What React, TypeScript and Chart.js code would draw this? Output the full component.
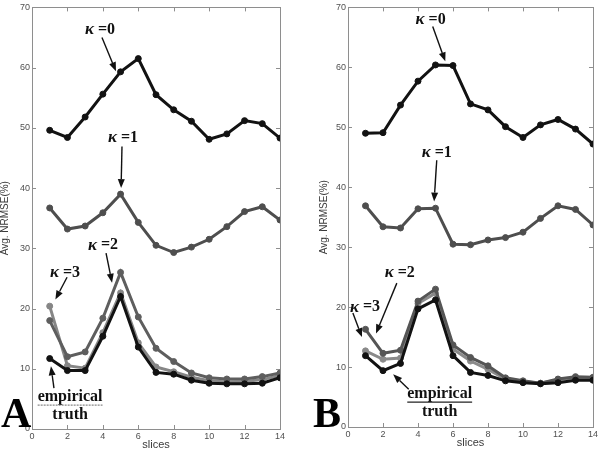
import React, { useEffect, useRef } from 'react';
import { Chart, registerables } from 'chart.js';

Chart.register(...registerables);

// ---------- data ----------
const slices = [1, 2, 3, 4, 5, 6, 7, 8, 9, 10, 11, 12, 13, 14];
const xTickValues = [0, 2, 4, 6, 8, 10, 12, 14];
const yTickValues = [0, 10, 20, 30, 40, 50, 60, 70];

// Panel A
const aKappa0 = [49.6, 48.4, 51.8, 55.6, 59.3, 61.5, 55.5, 53.0, 51.1, 48.1, 49.0, 51.2, 50.7, 48.3];
const aKappa1 = [36.7, 33.2, 33.7, 35.9, 39.0, 34.3, 30.5, 29.3, 30.2, 31.5, 33.6, 36.1, 36.9, 34.7];
const aKappa2 = [18.0, 12.0, 12.8, 18.4, 26.0, 18.6, 13.4, 11.2, 9.3, 8.5, 8.3, 8.3, 8.7, 9.3];
const aKappa3 = [20.4, 10.5, 10.1, 16.0, 22.6, 14.3, 10.3, 9.5, 8.6, 8.0, 7.8, 7.9, 8.2, 8.9];
const aTruth = [11.7, 9.7, 9.7, 15.4, 22.0, 13.6, 9.4, 9.1, 8.1, 7.6, 7.5, 7.5, 7.6, 8.5];

// Panel B
const bKappa0 = [49.0, 49.1, 53.7, 57.7, 60.4, 60.3, 53.9, 52.9, 50.1, 48.3, 50.4, 51.3, 49.7, 47.2];
const bKappa1 = [36.9, 33.4, 33.2, 36.4, 36.5, 30.5, 30.4, 31.2, 31.6, 32.5, 34.8, 36.9, 36.3, 33.7];
const bKappa2 = [16.3, 12.3, 12.8, 21.0, 23.0, 13.7, 11.6, 10.2, 8.2, 7.7, 7.3, 8.0, 8.4, 8.3];
const bKappa3 = [12.7, 11.3, 11.5, 20.6, 22.3, 13.0, 11.0, 9.6, 8.0, 7.6, 7.3, 7.9, 8.2, 8.1];
const bTruth = [11.9, 9.4, 10.6, 19.7, 21.2, 11.9, 9.1, 8.6, 7.7, 7.4, 7.2, 7.4, 7.8, 7.8];

const seriesNames = ['κ =0', 'κ =1', 'κ =2', 'κ =3', 'empirical truth'];

// ---------- annotation layout (data units) ----------
type Label = { kappa: string | null; text: string; x: number; y: number };
type Arrow = { x1: number; y1: number; x2: number; y2: number };

const aLabels: Label[] = [
  { kappa: 'κ', text: ' =0', x: 3.84, y: 66.3 },
  { kappa: 'κ', text: ' =1', x: 5.14, y: 48.4 },
  { kappa: 'κ', text: ' =2', x: 4.01, y: 30.5 },
  { kappa: 'κ', text: ' =3', x: 1.86, y: 25.9 },
  { kappa: null, text: 'empirical', x: 2.15, y: 5.3 },
  { kappa: null, text: 'truth', x: 2.15, y: 2.4 },
];
const aArrows: Arrow[] = [
  { x1: 3.95, y1: 65.0, x2: 4.74, y2: 59.4 },
  { x1: 5.08, y1: 46.9, x2: 5.03, y2: 40.0 },
  { x1: 4.18, y1: 29.2, x2: 4.52, y2: 24.3 },
  { x1: 1.98, y1: 25.2, x2: 1.32, y2: 21.5 },
  { x1: 1.24, y1: 6.8, x2: 1.07, y2: 10.4 },
];
const bLabels: Label[] = [
  { kappa: 'κ', text: ' =0', x: 4.72, y: 68.0 },
  { kappa: 'κ', text: ' =1', x: 5.07, y: 45.7 },
  { kappa: 'κ', text: ' =2', x: 2.96, y: 25.7 },
  { kappa: 'κ', text: ' =3', x: 0.97, y: 20.0 },
  { kappa: null, text: 'empirical', x: 5.24, y: 5.5 },
  { kappa: null, text: 'truth', x: 5.24, y: 2.5 },
];
const bArrows: Arrow[] = [
  { x1: 4.84, y1: 66.8, x2: 5.56, y2: 61.0 },
  { x1: 5.07, y1: 44.5, x2: 4.92, y2: 37.6 },
  { x1: 2.79, y1: 24.0, x2: 1.6, y2: 15.6 },
  { x1: 0.28, y1: 19.0, x2: 0.8, y2: 15.0 },
  { x1: 3.47, y1: 6.3, x2: 2.58, y2: 8.8 },
];

type PanelSpec = {
  letter: string;
  values: number[][];
  colors: string[];
  labels: Label[];
  arrows: Arrow[];
  padLeft: number;
  padRight: number;
  padTop: number;
  yWidth: number;
  xHeight: number;
  titlePadTop: number;
  xTitlePadBottom: number;
  letterX: number;
  underlineDotted: boolean;
};

const panelA: PanelSpec = {
  letter: 'A',
  values: [aKappa0, aKappa1, aKappa2, aKappa3, aTruth],
  colors: ['#121212', '#4e4e4e', '#5e5e5e', '#868686', '#121212'],
  labels: aLabels,
  arrows: aArrows,
  padLeft: 0,
  padRight: 20,
  padTop: 7,
  yWidth: 32,
  xHeight: 25,
  titlePadTop: -1,
  xTitlePadBottom: 2,
  letterX: 1,
  underlineDotted: true,
};
const panelB: PanelSpec = {
  letter: 'B',
  values: [bKappa0, bKappa1, bKappa2, bKappa3, bTruth],
  colors: ['#121212', '#4e4e4e', '#555555', '#8a8a8a', '#121212'],
  labels: bLabels,
  arrows: bArrows,
  padLeft: 18,
  padRight: 6,
  padTop: 7,
  yWidth: 30,
  xHeight: 27,
  titlePadTop: 0,
  xTitlePadBottom: 4,
  letterX: 13,
  underlineDotted: false,
};

const SERIF = "'Liberation Serif', 'DejaVu Serif', serif";
const SANS = "'Liberation Sans', Arial, sans-serif";

function drawArrow(ctx: CanvasRenderingContext2D, x1: number, y1: number, x2: number, y2: number) {
  const ang = Math.atan2(y2 - y1, x2 - x1);
  const hl = 9;
  const hw = 3.5;
  const bx = x2 - hl * Math.cos(ang);
  const by = y2 - hl * Math.sin(ang);
  ctx.beginPath();
  ctx.moveTo(x1, y1);
  ctx.lineTo(bx, by);
  ctx.lineWidth = 1.4;
  ctx.strokeStyle = '#111';
  ctx.stroke();
  ctx.beginPath();
  ctx.moveTo(x2, y2);
  ctx.lineTo(bx + hw * Math.sin(ang), by - hw * Math.cos(ang));
  ctx.lineTo(bx - hw * Math.sin(ang), by + hw * Math.cos(ang));
  ctx.closePath();
  ctx.fillStyle = '#111';
  ctx.fill();
}

function makeChart(canvas: HTMLCanvasElement, p: PanelSpec) {
  const order = [0, 1, 2, 3, 0];
  const datasets = p.values.map((vals, i) => ({
    label: seriesNames[i],
    data: slices.map((s, j) => ({ x: s, y: vals[j] })),
    borderColor: p.colors[i],
    backgroundColor: p.colors[i],
    pointBackgroundColor: p.colors[i],
    pointBorderColor: p.colors[i],
    borderWidth: 3,
    pointRadius: 3,
    pointBorderWidth: 1,
    tension: 0,
    order: order[i],
  }));

  const framePlugin = {
    id: 'frameAndNotes',
    beforeDatasetsDraw(chart: any) {
      const { ctx, chartArea: ca, scales } = chart;
      const xs = scales.x;
      const ys = scales.y;
      ctx.save();
      ctx.strokeStyle = '#8e8e8e';
      ctx.lineWidth = 1;
      ctx.strokeRect(Math.round(ca.left) + 0.5, Math.round(ca.top) + 0.5, Math.round(ca.right - ca.left), Math.round(ca.bottom - ca.top));
      const tl = 4;
      ctx.beginPath();
      xTickValues.forEach((v) => {
        const px = Math.round(xs.getPixelForValue(v)) + 0.5;
        ctx.moveTo(px, ca.bottom);
        ctx.lineTo(px, ca.bottom - tl);
        ctx.moveTo(px, ca.top);
        ctx.lineTo(px, ca.top + tl);
      });
      yTickValues.forEach((v) => {
        const py = Math.round(ys.getPixelForValue(v)) + 0.5;
        ctx.moveTo(ca.left, py);
        ctx.lineTo(ca.left + tl, py);
        ctx.moveTo(ca.right, py);
        ctx.lineTo(ca.right - tl, py);
      });
      ctx.stroke();
      ctx.restore();
    },
    afterDraw(chart: any) {
      const { ctx, scales } = chart;
      const xs = scales.x;
      const ys = scales.y;
      ctx.save();
      p.arrows.forEach((a) => {
        drawArrow(ctx, xs.getPixelForValue(a.x1), ys.getPixelForValue(a.y1), xs.getPixelForValue(a.x2), ys.getPixelForValue(a.y2));
      });
      ctx.textBaseline = 'middle';
      ctx.fillStyle = '#111';
      p.labels.forEach((l) => {
        const cx = xs.getPixelForValue(l.x);
        const cy = ys.getPixelForValue(l.y);
        const fMain = `bold 16px ${SERIF}`;
        const fK = `italic bold 17px ${SERIF}`;
        ctx.font = fMain;
        const wt = ctx.measureText(l.text).width;
        let wk = 0;
        if (l.kappa) {
          ctx.font = fK;
          wk = ctx.measureText(l.kappa).width;
        }
        const start = cx - (wt + wk) / 2;
        ctx.textAlign = 'left';
        if (l.kappa) {
          ctx.font = fK;
          ctx.fillText(l.kappa, start, cy);
        }
        ctx.font = fMain;
        ctx.fillText(l.text, start + wk, cy);
        if (l.text === 'empirical') {
          ctx.beginPath();
          ctx.strokeStyle = p.underlineDotted ? '#888' : '#222';
          ctx.lineWidth = 1.2;
          if (p.underlineDotted) ctx.setLineDash([2, 1]);
          ctx.moveTo(start, cy + 8);
          ctx.lineTo(start + wt, cy + 8);
          ctx.stroke();
          ctx.setLineDash([]);
        }
      });
      ctx.font = `bold 42px ${SERIF}`;
      ctx.textAlign = 'left';
      ctx.textBaseline = 'alphabetic';
      ctx.fillStyle = '#000';
      ctx.fillText(p.letter, p.letterX, 427);
      ctx.restore();
    },
  };

  return new Chart(canvas, {
    type: 'line',
    data: { datasets },
    plugins: [framePlugin],
    options: {
      responsive: false,
      animation: false,
      devicePixelRatio: 1,
      layout: { padding: { left: p.padLeft, right: p.padRight, top: p.padTop, bottom: 0 } },
      plugins: { legend: { display: false }, tooltip: { enabled: false } },
      scales: {
        x: {
          type: 'linear',
          min: 0,
          max: 14,
          grid: { display: false, drawTicks: false },
          border: { display: false },
          afterBuildTicks: (s: any) => {
            s.ticks = xTickValues.map((v) => ({ value: v }));
          },
          afterFit: (s: any) => {
            s.height = p.xHeight;
          },
          ticks: { padding: 2, color: '#505050', font: { family: SANS, size: 9 }, maxRotation: 0, autoSkip: false },
          title: {
            display: true,
            text: 'slices',
            color: '#3a3a3a',
            font: { family: SANS, size: 11 },
            padding: { top: 0, bottom: p.xTitlePadBottom },
          },
        },
        y: {
          type: 'linear',
          min: 0,
          max: 70,
          grid: { display: false, drawTicks: false },
          border: { display: false },
          afterBuildTicks: (s: any) => {
            s.ticks = yTickValues.map((v) => ({ value: v }));
          },
          afterFit: (s: any) => {
            s.width = p.yWidth;
          },
          ticks: { padding: 2, color: '#505050', font: { family: SANS, size: 9 }, autoSkip: false },
          title: {
            display: true,
            text: 'Avg. NRMSE(%)',
            color: '#3a3a3a',
            font: { family: SANS, size: 10 },
            padding: { top: p.titlePadTop, bottom: 0 },
          },
        },
      },
    },
  } as any);
}

function Panel({ spec }: { spec: PanelSpec }) {
  const ref = useRef<HTMLCanvasElement | null>(null);
  useEffect(() => {
    if (!ref.current) return;
    const chart = makeChart(ref.current, spec);
    return () => chart.destroy();
  }, [spec]);
  return <canvas ref={ref} width={300} height={454} style={{ display: 'block', width: 300, height: 454 }} />;
}

export default function App() {
  useEffect(() => {
    document.body.style.margin = '0';
  }, []);
  return (
    <div style={{ position: 'absolute', left: 0, top: 0, width: 600, height: 454, display: 'flex', background: '#fff' }}>
      <Panel spec={panelA} />
      <Panel spec={panelB} />
    </div>
  );
}
